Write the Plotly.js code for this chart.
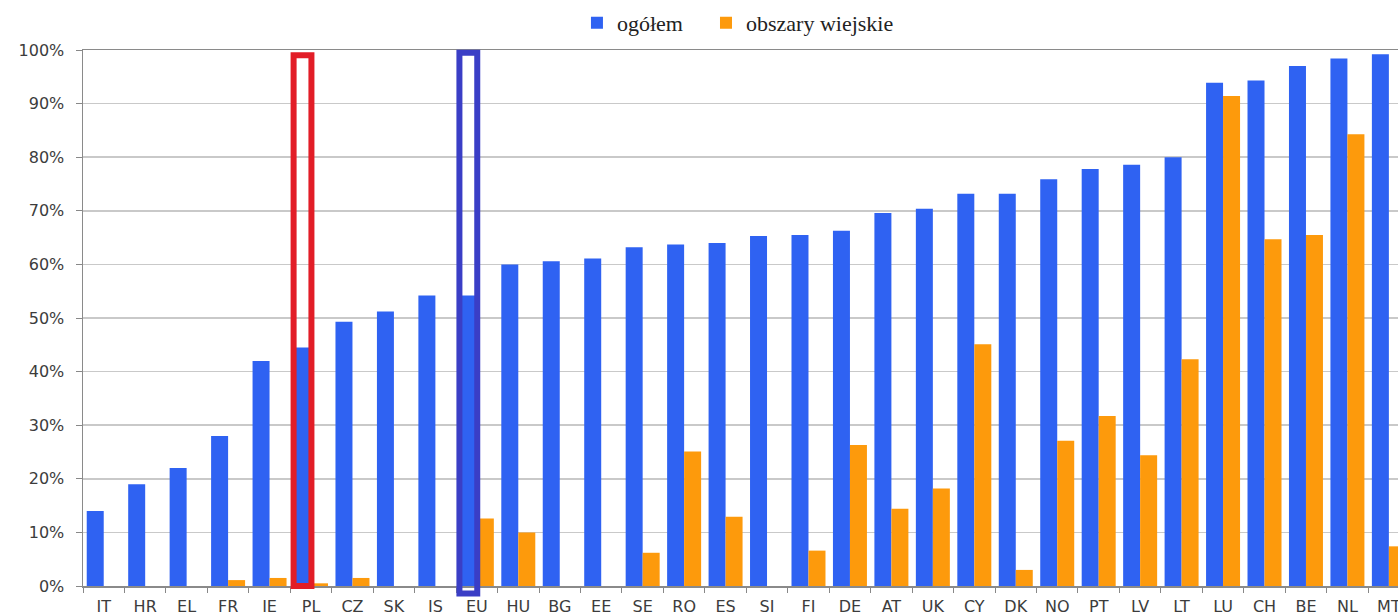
<!DOCTYPE html>
<html>
<head>
<meta charset="utf-8">
<script src="https://cdn.plot.ly/plotly-3.0.1.min.js"></script>
<style>html,body{margin:0;padding:0;background:#fff;}#chart{width:1398px;height:616px;}</style>
</head>
<body>
<div id="chart"></div>
<script>
var categories = ["IT","HR","EL","FR","IE","PL","CZ","SK","IS","EU","HU","BG","EE","SE","RO","ES","SI","FI","DE","AT","UK","CY","DK","NO","PT","LV","LT","LU","CH","BE","NL","MT"];
var ogolem = [14,19,22,28,42,44.5,49.3,51.2,54.2,54.2,60,60.6,61.1,63.2,63.7,64,65.3,65.5,66.3,69.6,70.4,73.2,73.2,75.9,77.8,78.6,80,93.9,94.3,97,98.4,99.2];
var wiejskie = [0,0,0,1.1,1.5,0.5,1.5,0,0,12.6,10,0,0,6.2,25.1,12.9,0,6.6,26.3,14.4,18.2,45.1,3,27.1,31.7,24.4,42.3,91.4,64.7,65.5,84.3,7.4];
var seriesNames = ["ogółem","obszary wiejskie"];
var highlighted = [{cat:"PL", color:"#e21d27", top:0.99, bottom:0.0}, {cat:"EU", color:"#3a3ec6", top:0.995, bottom:-0.014}];

var traces = [
  {type:"bar", name:seriesNames[0], x:categories, y:ogolem, marker:{color:"#2f62f2"}, legend:"legend"},
  {type:"bar", name:seriesNames[1], x:categories, y:wiejskie, marker:{color:"#fd9a0c"}, legend:"legend2"}
];

var shapes = highlighted.map(function(h){
  var i = categories.indexOf(h.cat);
  return {type:"rect", xref:"x", yref:"paper", x0:i-0.42, x1:i+0.01, y0:h.bottom, y1:h.top,
          line:{color:h.color, width:6}, fillcolor:"rgba(0,0,0,0)", layer:"above"};
});

var tickFont = {family:"DejaVu Sans, Arial, sans-serif", size:16, color:"#3c3c3c"};
var legendFont = {family:"Liberation Serif, Times New Roman, serif", size:22, color:"#222"};
function legendAt(x){
  return {orientation:"h", xref:"container", yref:"container", x:x, y:0.997, xanchor:"left", yanchor:"top",
          font:legendFont, itemwidth:30, tracegroupgap:0, bgcolor:"rgba(0,0,0,0)"};
}
var layout = {
  width:1398, height:616,
  margin:{l:83, r:0, t:50, b:30, pad:0},
  paper_bgcolor:"#fff", plot_bgcolor:"#fff",
  barmode:"group", bargap:0.18, bargroupgap:0,
  showlegend:true,
  legend:legendAt(0.4127),
  legend2:legendAt(0.505),
  xaxis:{type:"category", range:[-0.5, 31.22], tickfont:tickFont, ticks:"outside", tickson:"boundaries",
         ticklen:5, tickcolor:"#888", showline:true, linecolor:"#8a8a8a", linewidth:1.5, mirror:true,
         ticklabelstandoff:5, showgrid:false, fixedrange:true},
  yaxis:{range:[0,100], dtick:10, ticksuffix:"%", tickfont:tickFont, ticks:"outside", ticklen:6, tickcolor:"#888",
         showline:true, linecolor:"#8a8a8a", linewidth:1.5, gridcolor:"#c9c9c9", gridwidth:1.5,
         ticklabelstandoff:8, zeroline:false, fixedrange:true},
  shapes:shapes
};
Plotly.newPlot("chart", traces, layout, {displayModeBar:false, staticPlot:true});
</script>
</body>
</html>
